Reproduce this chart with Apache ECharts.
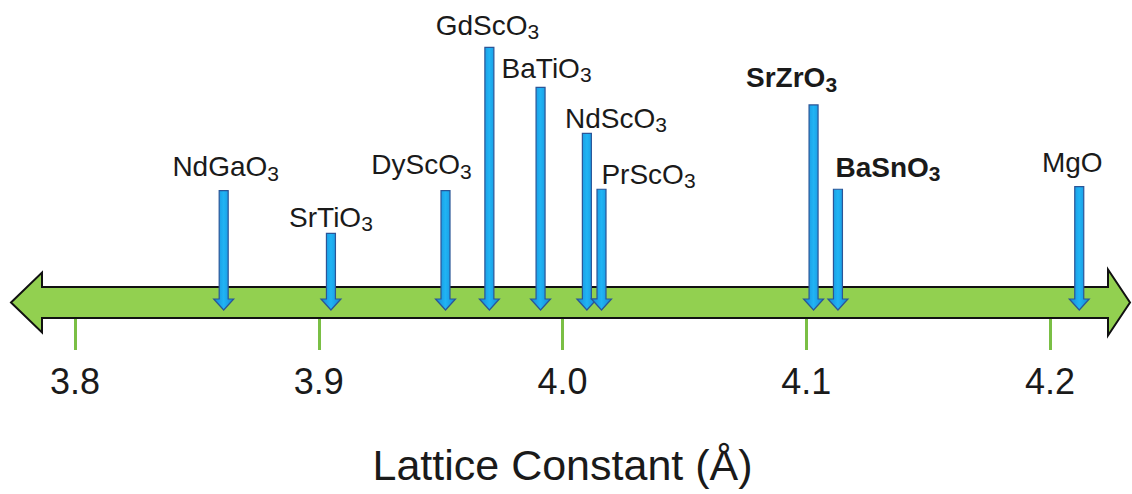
<!DOCTYPE html>
<html>
<head>
<meta charset="utf-8">
<style>
  html, body { margin: 0; padding: 0; background: #ffffff; }
  #chart { width: 1132px; height: 494px; }
</style>
<script src="https://cdn.jsdelivr.net/npm/echarts@6/dist/echarts.min.js"></script>
</head>
<body>
<div id="chart"></div>
<script>
// Substrate materials and their (pseudo-)cubic lattice constants in Å
const materials = ['NdGaO3', 'SrTiO3', 'DyScO3', 'GdScO3', 'BaTiO3', 'NdScO3', 'PrScO3', 'SrZrO3', 'BaSnO3', 'MgO'];
const latticeConstants = [3.861, 3.905, 3.952, 3.970, 3.991, 4.010, 4.016, 4.103, 4.113, 4.212];
// Marker height (arbitrary units) used to stagger the labels
const markerHeights = [4.42, 2.94, 4.42, 9.40, 8.01, 6.41, 4.47, 7.40, 4.47, 4.56];
// Materials written in bold
const highlighted = ['SrZrO3', 'BaSnO3'];
// Axis tick values
const tickValues = [3.8, 3.9, 4.0, 4.1, 4.2];
const axisTitle = 'Lattice Constant (Å)';

// Label placement relative to the top of each marker: [horizontal shift, baseline gap]
const labelPlacement = {
  NdGaO3: [2, 16], SrTiO3: [0, 8], DyScO3: [-24, 18], GdScO3: [-2, 14], BaTiO3: [6, 11],
  NdScO3: [29, 7], PrScO3: [47, 7], SrZrO3: [-22, 19], BaSnO3: [50, 14], MgO: [-7, 16]
};

const FONT = '"Liberation Sans", Arial, sans-serif';
const TEXT_COLOR = '#1a1a1a';
const MAIN_SIZE = 28, SUB_SIZE = 21;

// Text width helper for laying out formula + subscript
const measureCtx = document.createElement('canvas').getContext('2d');
function textWidth(str, size, weight) {
  measureCtx.font = weight + ' ' + size + 'px ' + FONT;
  return measureCtx.measureText(str).width;
}

// Split a chemical formula into its body and trailing subscript digits
function splitFormula(name) {
  const m = name.match(/^(.*?)(\d+)$/);
  return m ? [m[1], m[2]] : [name, ''];
}

const seriesData = latticeConstants.map((v, i) => [v, markerHeights[i], i]);

const chart = echarts.init(document.getElementById('chart'), null, { renderer: 'svg' });

chart.setOption({
  animation: false,
  backgroundColor: '#ffffff',
  grid: { left: 75, right: 82, top: 30, bottom: 176 },
  xAxis: {
    type: 'value',
    min: tickValues[0],
    max: tickValues[tickValues.length - 1],
    interval: 0.1,
    axisLine: { show: false },
    splitLine: { show: false },
    axisTick: { show: true, length: 32, lineStyle: { color: '#7ABF45', width: 3 } },
    axisLabel: {
      margin: 45,
      fontSize: 36,
      fontFamily: FONT,
      color: TEXT_COLOR,
      formatter: v => v.toFixed(1)
    },
    name: axisTitle,
    nameLocation: 'middle',
    nameGap: 125,
    nameTextStyle: { fontSize: 43, fontFamily: FONT, color: TEXT_COLOR }
  },
  yAxis: { type: 'value', min: 0, max: 10, show: false },
  series: [
    {
      // Double-headed green arrow serving as the axis line
      type: 'custom',
      clip: false,
      silent: true,
      data: [0],
      renderItem: function (params, api) {
        const cs = params.coordSys;
        const yb = cs.y + cs.height;       // bottom edge of the bar
        const yt = yb - 31;                // top edge of the bar
        const ym = (yt + yb) / 2;
        const lTip = cs.x - 64, lBase = cs.x - 33;
        const rBase = cs.x + cs.width + 58, rTip = cs.x + cs.width + 80;
        return {
          type: 'polygon',
          shape: {
            points: [
              [lTip, ym], [lBase, ym - 30], [lBase, yt], [rBase, yt], [rBase, ym - 33],
              [rTip, ym], [rBase, ym + 33], [rBase, yb], [lBase, yb], [lBase, ym + 30]
            ]
          },
          style: { fill: '#92D050', stroke: '#111111', lineWidth: 2, lineJoin: 'miter' }
        };
      }
    },
    {
      // Blue marker arrows pointing at each lattice constant, with formula labels
      type: 'custom',
      clip: false,
      data: seriesData,
      renderItem: function (params, api) {
        const idx = api.value(2);
        const name = materials[idx];
        const base = api.coord([api.value(0), 0]);
        const top = api.coord([api.value(0), api.value(1)]);
        const x = base[0];
        const tip = base[1] - 8;
        const headTop = tip - 11;
        const sw = 4.5, hw = 10;
        const place = labelPlacement[name] || [0, 12];
        const weight = highlighted.indexOf(name) >= 0 ? 'bold' : 'normal';

        const parts = splitFormula(name);
        const wMain = textWidth(parts[0], MAIN_SIZE, weight);
        const wSub = parts[1] ? textWidth(parts[1], SUB_SIZE, weight) : 0;
        const left = x + place[0] - (wMain + wSub) / 2;
        const yBottom = top[1] - place[1] + 6;

        const children = [
          {
            type: 'polygon',
            shape: {
              points: [
                [x - sw, top[1]], [x + sw, top[1]], [x + sw, headTop], [x + hw, headTop],
                [x, tip], [x - hw, headTop], [x - sw, headTop]
              ]
            },
            style: {
              fill: new echarts.graphic.LinearGradient(0, 0, 1, 0, [
                { offset: 0, color: '#1588D6' },
                { offset: 0.5, color: '#20B4F4' },
                { offset: 1, color: '#1588D6' }
              ]),
              stroke: '#2B5597',
              lineWidth: 1.2
            }
          },
          {
            type: 'text',
            x: left,
            y: yBottom,
            style: {
              text: parts[0],
              align: 'left',
              verticalAlign: 'bottom',
              fill: TEXT_COLOR,
              fontSize: MAIN_SIZE,
              fontFamily: FONT,
              fontWeight: weight
            }
          }
        ];
        if (parts[1]) {
          children.push({
            type: 'text',
            x: left + wMain,
            y: yBottom + 3,
            style: {
              text: parts[1],
              align: 'left',
              verticalAlign: 'bottom',
              fill: TEXT_COLOR,
              fontSize: SUB_SIZE,
              fontFamily: FONT,
              fontWeight: weight
            }
          });
        }
        return { type: 'group', children: children };
      }
    }
  ]
});
</script>
</body>
</html>
